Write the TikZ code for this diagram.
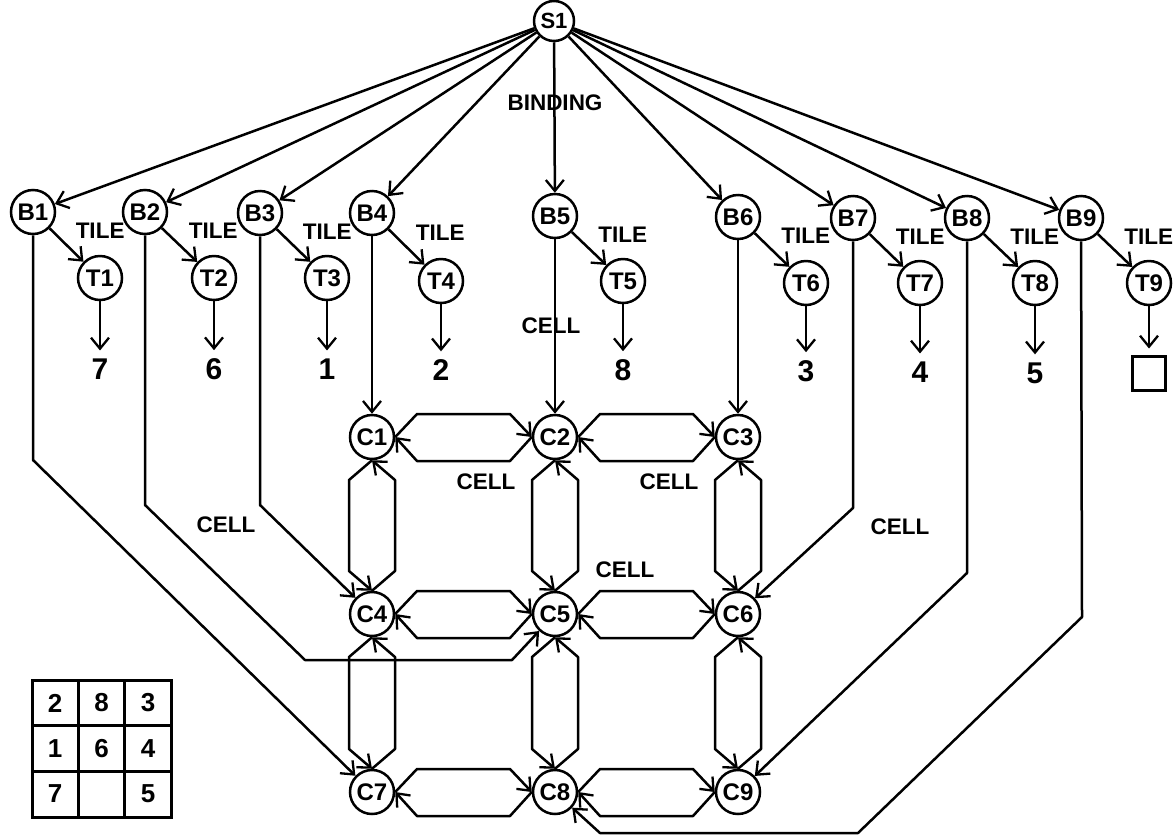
\documentclass[tikz,border=0pt]{standalone}
\usepackage{fontspec}
\setmainfont{Liberation Sans}
\usetikzlibrary{arrows.meta,calc}
\newcommand{\hpairC}[2]{%
 \draw[arr] (#1.east) -- ($(#1)+(45,-23)$) -- ($(#2)+(-45,-23)$) -- (#2.west);
 \draw[arr] (#2.west) -- ($(#2)+(-45,24)$) -- ($(#1)+(45,24)$) -- (#1.east);}
\newcommand{\vpairC}[2]{%
 \draw[arr] (#1.south) -- ($(#1)+(-23,43)$) -- ($(#2)+(-23,-43)$) -- (#2.north);
 \draw[arr] (#2.north) -- ($(#2)+(23,-43)$) -- ($(#1)+(23,43)$) -- (#1.south);}
\begin{document}
\begin{tikzpicture}[x=1pt,y=-1pt,
  nd/.style={circle,draw,line width=2.5pt,minimum size=44pt,inner sep=0pt,
    font=\bfseries\fontsize{24}{24}\selectfont},
  arr/.style={line width=2.5pt,line join=round,
    -{Straight Barb[length=11pt,width=18pt,line width=2.3pt]}},
  lab/.style={font=\bfseries\fontsize{22.5}{22.5}\selectfont,inner sep=0pt},
  tile/.style={lab,pos=0.5,anchor=south west,xshift=8pt,yshift=5pt},
  num/.style={font=\bfseries\fontsize{30}{30}\selectfont,inner sep=3pt},
  tnum/.style={font=\bfseries\fontsize{26}{26}\selectfont,inner sep=0pt},
]
\fill[white] (0,0) rectangle (1174,836);
\useasboundingbox (0,0) rectangle (1174,836);

% top node
\node[nd,minimum size=40pt,font=\bfseries\fontsize{22}{22}\selectfont] (S1) at (554,21) {S1};

% binding nodes
\node[nd] (B1) at (33,212) {B1};
\node[nd] (B2) at (145,212) {B2};
\node[nd] (B3) at (260,213) {B3};
\node[nd] (B4) at (372,213) {B4};
\node[nd] (B5) at (555,216) {B5};
\node[nd] (B6) at (738,217) {B6};
\node[nd] (B7) at (853,218) {B7};
\node[nd] (B8) at (967,218) {B8};
\node[nd] (B9) at (1081,218) {B9};

% tile nodes
\node[nd] (T1) at (100,278) {T1};
\node[nd] (T2) at (214,278) {T2};
\node[nd] (T3) at (327,278) {T3};
\node[nd] (T4) at (441,281) {T4};
\node[nd] (T5) at (623,281) {T5};
\node[nd] (T6) at (806,283) {T6};
\node[nd] (T7) at (920,283) {T7};
\node[nd] (T8) at (1035,283) {T8};
\node[nd] (T9) at (1149,283) {T9};

% values
\node[num] (n1) at (100,369) {7};
\node[num] (n2) at (214,369) {6};
\node[num] (n3) at (327,369) {1};
\node[num] (n4) at (441,370) {2};
\node[num] (n5) at (623,370) {8};
\node[num] (n6) at (806,371) {3};
\node[num] (n7) at (920,372) {4};
\node[num] (n8) at (1035,373) {5};
\node[draw,line width=3pt,minimum width=33pt,minimum height=34pt,inner sep=0pt] (sq) at (1149,373) {};

% cell nodes
\node[nd] (C1) at (372,437) {C1};
\node[nd] (C2) at (555,437) {C2};
\node[nd] (C3) at (738,437) {C3};
\node[nd] (C4) at (372,614) {C4};
\node[nd] (C5) at (555,614) {C5};
\node[nd] (C6) at (738,614) {C6};
\node[nd] (C7) at (372,792) {C7};
\node[nd] (C8) at (555,792) {C8};
\node[nd] (C9) at (738,792) {C9};

% S1 -> B
\foreach \b in {B1,B2,B3,B4,B5,B6,B7,B8,B9}
  \draw[arr] (S1) -- (\b);

% B -> T with TILE labels, T -> value
\foreach \i in {1,...,9}
  \draw[arr] (B\i) -- node[tile]{TILE} (T\i);
\foreach \i in {1,...,8}
  \draw[arr,shorten >=5pt] (T\i) -- (n\i);
\draw[arr,shorten >=6pt] (T9) -- (sq);

% B -> C routings
\coordinate (k1) at (33,460);
\coordinate (k2a) at (145,505);
\coordinate (k2b) at (305,660);
\coordinate (k2c) at (512,660);
\coordinate (k3) at (260,505);
\coordinate (k7) at (853,508);
\coordinate (k8) at (967,573);
\coordinate (k9a) at (1082,617);
\coordinate (k9b) at (858,833);
\coordinate (k9c) at (600,833);
\draw[arr] (B1) -- (k1) -- (C7);
\draw[arr] (B2) -- (k2a) -- (k2b) -- (k2c) -- (C5);
\draw[arr] (B3) -- (k3) -- (C4);
\draw[arr] (B4) -- (C1);
\draw[arr] (B5) -- (C2);
\draw[arr] (B6) -- (C3);
\draw[arr] (B7) -- (k7) -- (C6);
\draw[arr] (B8) -- (k8) -- (C9);
\draw[arr] (B9) -- (k9a) -- (k9b) -- (k9c) -- (C8);

% cell grid pairs
\hpairC{C1}{C2}
\hpairC{C2}{C3}
\hpairC{C4}{C5}
\hpairC{C5}{C6}
\hpairC{C7}{C8}
\hpairC{C8}{C9}
\vpairC{C1}{C4}
\vpairC{C2}{C5}
\vpairC{C3}{C6}
\vpairC{C4}{C7}
\vpairC{C5}{C8}
\vpairC{C6}{C9}

% labels
\node[lab] (lbind) at (555,103) {BINDING};
\node[lab] (lc0) at (551,326) {CELL};
\node[lab] (lc1) at (486,482) {CELL};
\node[lab] (lc2) at (669,482) {CELL};
\node[lab] (lc3) at (226,525) {CELL};
\node[lab] (lc4) at (625,570) {CELL};
\node[lab] (lc5) at (900,527) {CELL};

% puzzle board
\draw[line width=3pt] (32,680) rectangle (171,817);
\draw[line width=3pt] (78.3,680) -- (78.3,817) (124.7,680) -- (124.7,817)
  (32,725.7) -- (171,725.7) (32,771.3) -- (171,771.3);
\node[tnum] (p11) at (55,703) {2};
\node[tnum] (p12) at (101.5,703) {8};
\node[tnum] (p13) at (148,703) {3};
\node[tnum] (p21) at (55,748.5) {1};
\node[tnum] (p22) at (101.5,748.5) {6};
\node[tnum] (p23) at (148,748.5) {4};
\node[tnum] (p31) at (55,794) {7};
\node[tnum] (p33) at (148,794) {5};
\end{tikzpicture}
\end{document}
